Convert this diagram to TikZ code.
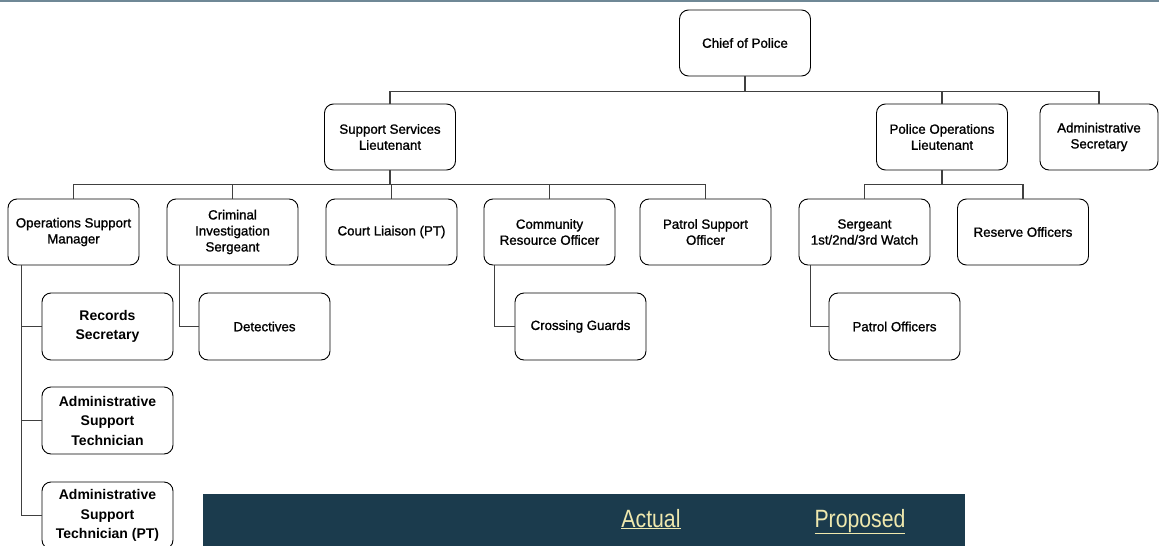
\documentclass[tikz,border=0pt]{standalone}
\usepackage{fontspec}
\setmainfont{Liberation Sans}
\newfontfamily\medfont{Liberation Sans}[FakeBold=1.2]
\newfontfamily\narrowfont{Liberation Sans}[FakeStretch=0.85]
\definecolor{bandblue}{HTML}{1B3B4D}
\definecolor{bandtext}{HTML}{EFE8AE}
\definecolor{topline}{HTML}{6F8896}
\begin{document}
\begin{tikzpicture}[x=1pt,y=-1pt,line width=0.9pt,
    main node/.style={draw,rounded corners=9pt,minimum width=131pt,minimum height=66pt,inner sep=2pt,align=center,font=\medfont\fontsize{13.3}{16}\selectfont},
    sub node/.style={main node,minimum height=67pt,font=\bfseries\fontsize{14}{19.5}\selectfont},
    link/.style={draw=black!75,line width=1.1pt},
    band text/.style={text=bandtext,anchor=base,font=\narrowfont\fontsize{25}{28}\selectfont}]
        \useasboundingbox (0,0) rectangle (1159,546);
        \clip (0,0) rectangle (1159,546);
        \fill[topline] (0,0) rectangle (1159,2);

        \node[main node] at (745, 43) (chief) {Chief of Police};
        \node[main node] at (390, 137) (ssl) {Support Services\\Lieutenant};
        \node[main node] at (942, 137) (pol) {Police Operations\\Lieutenant};
        \node[main node, minimum width=118pt] at (1099, 137) (ads) {Administrative\\Secretary};

        \node[main node] at (73.5, 232) (osm) {Operations Support\\Manager};
        \node[main node] at (232.5, 232) (cis) {Criminal\\Investigation\\Sergeant};
        \node[main node] at (391.5, 232) (court) {Court Liaison (PT)};
        \node[main node] at (549.5, 232) (cro) {Community\\Resource Officer};
        \node[main node] at (705.5, 232) (pso) {Patrol Support\\Officer};
        \node[main node] at (864.5, 232) (sgt) {Sergeant\\1st/2nd/3rd Watch};
        \node[main node] at (1023, 232) (res) {Reserve Officers};

        \node[sub node] at (107.5, 326.5) (rec) {Records\\Secretary};
        \node[sub node] at (107.5, 420.5) (ast) {Administrative\\Support\\Technician};
        \node[sub node] at (107.5, 515.5) (astpt) {Administrative\\Support\\Technician (PT)};
        \node[main node, minimum height=67pt] at (264.5, 326.5) (det) {Detectives};
        \node[main node, minimum height=67pt] at (580.5, 326.5) (crg) {Crossing Guards};
        \node[main node, minimum height=67pt] at (894.5, 326.5) (pat) {Patrol Officers};

        \draw[link] (chief.south) -- ++(0,15) -| (ssl.north);
        \draw[link] (chief.south) -- ++(0,15) -| (pol.north);
        \draw[link] (chief.south) -- ++(0,15) -| (ads.north);
        \foreach \kid in {osm,cis,court,cro,pso}
            \draw[link] (ssl.south) -- ++(0,14) -| (\kid.north);
        \foreach \kid in {sgt,res}
            \draw[link] (pol.south) -- ++(0,14) -| (\kid.north);
        \foreach \kid in {rec,ast,astpt}
            \draw[link] ([xshift=14pt]osm.south west) |- (\kid.west);
        \draw[link] ([xshift=13pt]cis.south west) |- (det.west);
        \draw[link] ([xshift=11pt]cro.south west) |- (crg.west);
        \draw[link] ([xshift=12pt]sgt.south west) |- (pat.west);

        \fill[bandblue] (203,494) rectangle (965,546);
        \node[band text] at (651, 527) (actual) {\underline{Actual}};
        \node[band text] at (860, 527) (proposed) {\underline{Proposed}};
\end{tikzpicture}
\end{document}
